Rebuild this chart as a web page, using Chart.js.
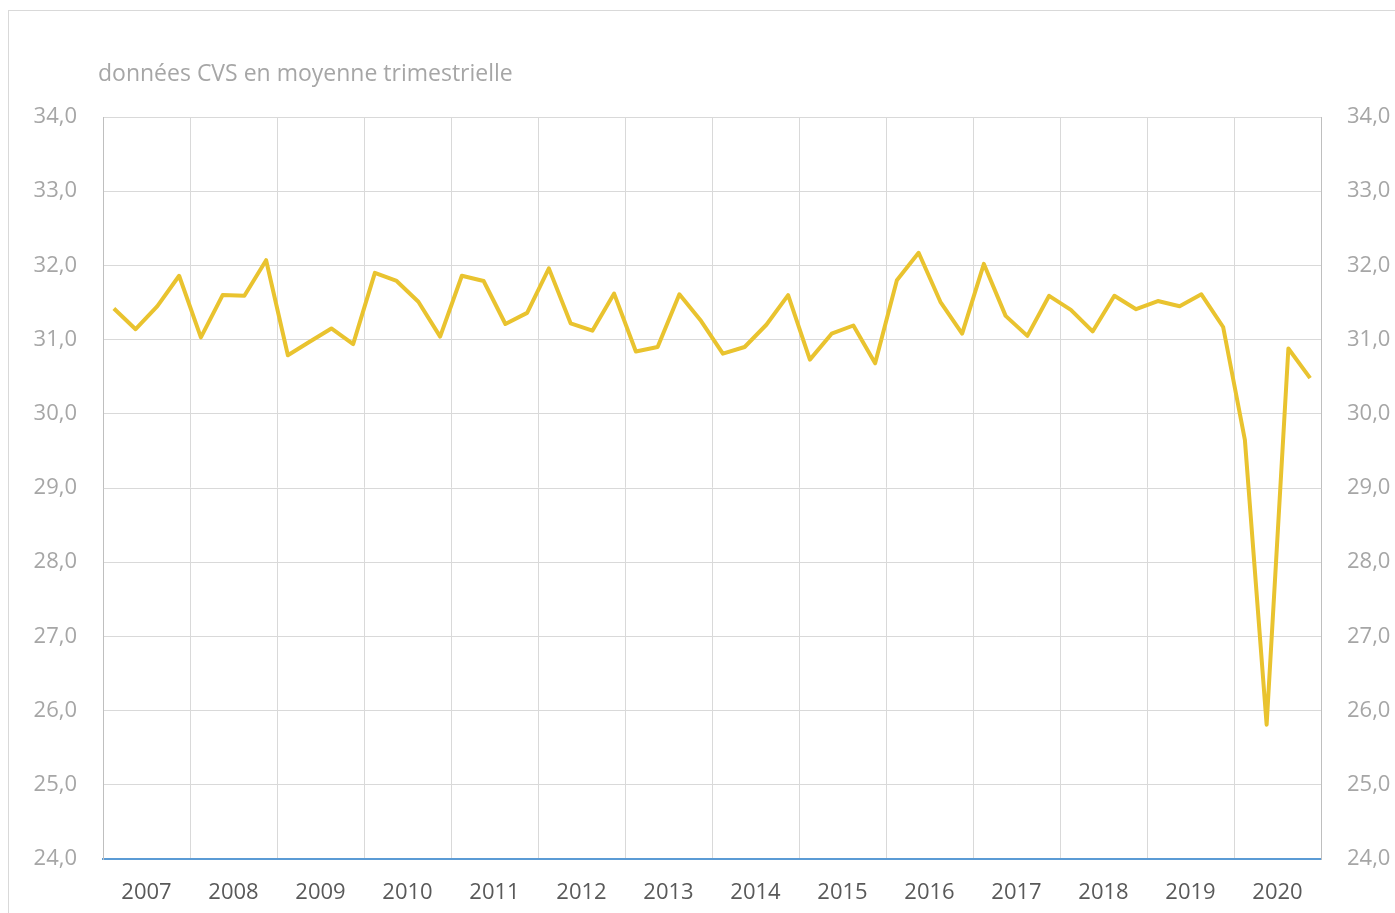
<!DOCTYPE html>
<html>
<head>
<meta charset="UTF-8">
<title>données CVS en moyenne trimestrielle</title>
<script src="https://cdn.jsdelivr.net/npm/chart.js@4/dist/chart.umd.min.js"></script>
<style>
body { margin:0; background:#fff; overflow:hidden; }
#cadre { position:absolute; left:8px; top:10px; width:1400px; height:920px; border:1px solid #d9d9d9; }
#wrap { position:absolute; left:0; top:0; width:1395px; height:913px; }
</style>
</head>
<body>
<div id="cadre"></div>
<div id="wrap"><canvas id="chart1"></canvas></div>

<script>
// années affichées sous l'axe
var annees = ["2007","2008","2009","2010","2011","2012","2013","2014","2015","2016","2017","2018","2019","2020"];
// un point par trimestre
var trimestres = [];
annees.forEach(function(a) {
	["T1","T2","T3","T4"].forEach(function(t) { trimestres.push(a + " " + t); });
});
// valeurs (données CVS, moyenne trimestrielle)
var valeurs = [
	31.42, 31.14, 31.45, 31.86,
	31.03, 31.60, 31.59, 32.07,
	30.79, 30.97, 31.15, 30.94,
	31.90, 31.79, 31.51, 31.04,
	31.86, 31.79, 31.21, 31.36,
	31.96, 31.22, 31.12, 31.62,
	30.84, 30.90, 31.61, 31.25,
	30.81, 30.90, 31.20, 31.60,
	30.73, 31.08, 31.19, 30.68,
	31.80, 32.17, 31.51, 31.08,
	32.02, 31.32, 31.05, 31.59,
	31.40, 31.11, 31.59, 31.41,
	31.52, 31.45, 31.61, 31.17,
	29.65, 25.81, 30.88, 30.48
];
var sousTitre = "données CVS en moyenne trimestrielle";

function virgule(v) {
	return v.toFixed(1).replace(".", ",");
}

var texteHaut = {
	id: "texteHaut",
	afterDraw: function(chart) {
		var c = chart.ctx;
		c.save();
		c.font = "23px 'Open Sans'";
		c.fillStyle = "#a6a6a6";
		c.textBaseline = "middle";
		c.textAlign = "left";
		c.fillText(sousTitre, chart.chartArea.left - 5, 74);
		c.restore();
	}
};

var axeY = {
	min: 24,
	max: 34,
	border: { color: "#bfbfbf", width: 1 },
	grid: {
		drawTicks: false,
		color: function(ctx) { return ctx.tick && ctx.tick.value === 24 ? "rgba(0,0,0,0)" : "#d9d9d9"; }
	},
	ticks: {
		stepSize: 1,
		padding: 26,
		color: "#a6a6a6",
		font: { family: "'Open Sans'", size: 22 },
		callback: function(v) { return virgule(v); }
	}
};

new Chart("chart1", {
	type: "line",
	data: {
		labels: trimestres,
		datasets: [{
			data: valeurs,
			borderColor: "#e9c32f",
			borderWidth: 4,
			borderJoinStyle: "round",
			pointRadius: 0,
			tension: 0,
			fill: false
		}]
	},
	options: {
		responsive: true,
		maintainAspectRatio: false,
		animation: false,
		layout: { padding: { top: 117, left: 0, right: 0, bottom: 0 } },
		plugins: {
			legend: { display: false },
			tooltip: { enabled: false }
		},
		scales: {
			x: {
				type: "category",
				display: false,
				offset: true
			},
			annees: {
				type: "category",
				position: "bottom",
				labels: annees,
				offset: true,
				border: { color: "#5b9bd5", width: 2 },
				grid: { offset: true, drawTicks: false, color: "#d9d9d9" },
				ticks: {
					padding: 21,
					maxRotation: 0,
					autoSkip: false,
					color: "#595959",
					font: { family: "'Open Sans'", size: 22 }
				},
				afterFit: function(s) { s.height = 54; }
			},
			y: Object.assign({}, axeY, {
				position: "left",
				afterFit: function(s) { s.width = 103; }
			}),
			y2: Object.assign({}, axeY, {
				position: "right",
				afterFit: function(s) { s.width = 74; }
			})
		}
	},
	plugins: [texteHaut]
});
</script>
</body>
</html>
